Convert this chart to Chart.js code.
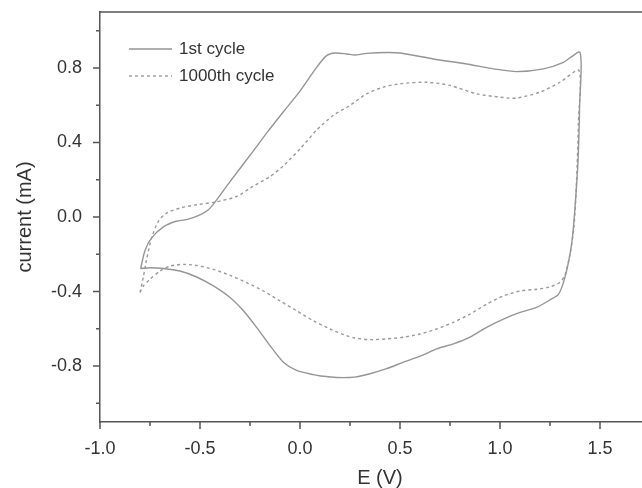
<!DOCTYPE html>
<html>
<head>
<meta charset="utf-8">
<script src="https://cdn.jsdelivr.net/npm/chart.js@4.4.1/dist/chart.umd.min.js"></script>
<style>
  html, body { margin: 0; padding: 0; background: #fff; overflow: hidden; }
  canvas { display: block; }
</style>
</head>
<body>
<canvas id="cvChart" width="662" height="488"></canvas>
<script>
// 1st cycle: anodic sweep from -0.8 V up to 1.4 V, then back (cathodic)
const cycle1E = [
  -0.797, -0.775, -0.742, -0.683, -0.62, -0.567, -0.5, -0.458, -0.425, -0.35,
  -0.233, -0.167, -0.083, 0.0, 0.083, 0.133, 0.175, 0.233, 0.275, 0.333,
  0.433, 0.5, 0.667, 0.833, 0.967, 1.083, 1.217, 1.317, 1.4,
  1.398, 1.39, 1.375, 1.36, 1.342, 1.317,
  1.292, 1.25, 1.183, 1.1, 1.017, 0.933, 0.85, 0.767, 0.683, 0.617,
  0.517, 0.433, 0.35, 0.272, 0.183, 0.105, 0.067, -0.017, -0.083, -0.15,
  -0.217, -0.283, -0.35, -0.433, -0.517, -0.6, -0.683, -0.75, -0.797
];
const cycle1I = [
  -0.277, -0.18, -0.112, -0.053, -0.023, -0.014, 0.012, 0.039, 0.08, 0.19,
  0.355, 0.45, 0.565, 0.675, 0.803, 0.866, 0.88, 0.875, 0.869, 0.878,
  0.883, 0.88, 0.848, 0.821, 0.795, 0.78, 0.795, 0.83, 0.883,
  0.6, 0.3, 0.05, -0.13, -0.245, -0.352,
  -0.415, -0.445, -0.485, -0.512, -0.548, -0.592, -0.645, -0.681, -0.708, -0.74,
  -0.779, -0.814, -0.841, -0.859, -0.861, -0.853, -0.846, -0.823, -0.779, -0.69,
  -0.592, -0.503, -0.432, -0.37, -0.322, -0.29, -0.276, -0.272, -0.277
];

// 1000th cycle
const cycle1000E = [
  -0.8, -0.783, -0.767, -0.742, -0.708, -0.667, -0.6, -0.517, -0.425, -0.317,
  -0.25, -0.15, -0.083, 0.0, 0.083, 0.167, 0.25, 0.333, 0.417, 0.5,
  0.633, 0.75, 0.883, 1.0, 1.083, 1.2, 1.3, 1.395,
  1.392, 1.383, 1.37, 1.35, 1.325,
  1.3, 1.25, 1.183, 1.1, 1.017, 0.933, 0.85, 0.767, 0.683, 0.6,
  0.517, 0.433, 0.35, 0.272, 0.233, 0.15, 0.067, -0.017, -0.1, -0.183,
  -0.267, -0.35, -0.433, -0.517, -0.583, -0.65, -0.7, -0.75, -0.783, -0.8
];
const cycle1000I = [
  -0.405, -0.32, -0.228, -0.112, -0.023, 0.021, 0.048, 0.066, 0.08, 0.11,
  0.155, 0.217, 0.275, 0.365, 0.466, 0.546, 0.599, 0.661, 0.697, 0.715,
  0.723, 0.706, 0.661, 0.643, 0.638, 0.67, 0.723, 0.786,
  0.5, 0.2, -0.05, -0.2, -0.31,
  -0.35, -0.375, -0.388, -0.397, -0.423, -0.468, -0.521, -0.565, -0.601, -0.628,
  -0.645, -0.654, -0.658, -0.649, -0.637, -0.601, -0.557, -0.503, -0.45, -0.397,
  -0.352, -0.313, -0.281, -0.26, -0.254, -0.263, -0.29, -0.334, -0.37, -0.405
];

const xMajorTicks = [-1.0, -0.5, 0.0, 0.5, 1.0, 1.5];
const xMinorTicks = [-0.75, -0.25, 0.25, 0.75, 1.25, 1.75];
const yMajorTicks = [-0.8, -0.4, 0.0, 0.4, 0.8];
const yMinorTicks = [-1.0, -0.6, -0.2, 0.2, 0.6, 1.0];

const FONT = '"Liberation Sans", Arial, sans-serif';
const AXIS = '#555';
const TEXT = '#333';

const toPoints = (xs, ys) => xs.map((x, i) => ({ x, y: ys[i] }));
const isMajor = (v, list) => list.some(m => Math.abs(m - v) < 1e-9);
const tickList = (a, b) => [...a, ...b].sort((p, q) => p - q).map(v => ({ value: v }));

// top/right frame, outward tick marks and the inset legend
const framePlugin = {
  id: 'frame',
  afterDraw(chart) {
    const { ctx, chartArea: a, scales: { x, y } } = chart;
    ctx.save();
    ctx.strokeStyle = AXIS;
    ctx.lineWidth = 1.5;
    ctx.beginPath();
    ctx.moveTo(a.left, a.top);
    ctx.lineTo(a.right, a.top);
    ctx.lineTo(a.right, a.bottom);
    x.ticks.forEach(t => {
      const px = x.getPixelForValue(t.value);
      const len = isMajor(t.value, xMajorTicks) ? 7 : 4;
      ctx.moveTo(px, a.bottom);
      ctx.lineTo(px, a.bottom + len);
    });
    y.ticks.forEach(t => {
      const py = y.getPixelForValue(t.value);
      const len = isMajor(t.value, yMajorTicks) ? 7 : 4;
      ctx.moveTo(a.left, py);
      ctx.lineTo(a.left - len, py);
    });
    ctx.stroke();

    ctx.font = '17px ' + FONT;
    ctx.textBaseline = 'middle';
    ctx.fillStyle = TEXT;
    chart.data.datasets.forEach((ds, i) => {
      const ly = a.top + 37 + i * 27;
      ctx.strokeStyle = ds.borderColor;
      ctx.lineWidth = ds.borderWidth;
      ctx.setLineDash(ds.borderDash || []);
      ctx.beginPath();
      ctx.moveTo(a.left + 29, ly);
      ctx.lineTo(a.left + 72, ly);
      ctx.stroke();
      ctx.fillText(ds.label, a.left + 79, ly);
    });
    ctx.restore();
  }
};

new Chart(document.getElementById('cvChart'), {
  type: 'scatter',
  data: {
    datasets: [
      {
        label: '1st cycle',
        data: toPoints(cycle1E, cycle1I),
        showLine: true,
        borderColor: '#959595',
        borderWidth: 1.4,
        pointRadius: 0,
        tension: 0.25
      },
      {
        label: '1000th cycle',
        data: toPoints(cycle1000E, cycle1000I),
        showLine: true,
        borderColor: '#9a9a9a',
        borderWidth: 1.4,
        borderDash: [3, 3],
        pointRadius: 0,
        tension: 0.25
      }
    ]
  },
  options: {
    responsive: false,
    animation: false,
    layout: { padding: { top: 12, right: 2, left: 0, bottom: 0 } },
    plugins: {
      legend: { display: false },
      tooltip: { enabled: false }
    },
    scales: {
      x: {
        type: 'linear',
        min: -1.0,
        max: 1.8,
        afterFit: s => { s.height = 66; s.paddingLeft = 0; s.paddingRight = 0; },
        afterBuildTicks: s => { s.ticks = tickList(xMajorTicks, xMinorTicks); },
        grid: { display: false, drawTicks: false },
        border: { display: true, color: AXIS, width: 1.5 },
        ticks: {
          autoSkip: false,
          maxRotation: 0,
          padding: 16,
          color: TEXT,
          font: { family: FONT, size: 18 },
          callback: v => isMajor(v, xMajorTicks) ? v.toFixed(1) : ''
        },
        title: {
          display: true,
          text: 'E (V)',
          color: TEXT,
          font: { family: FONT, size: 20 },
          padding: { top: 0, bottom: -2 }
        }
      },
      y: {
        type: 'linear',
        min: -1.1,
        max: 1.1,
        afterFit: s => { s.width = 100; s.paddingTop = 0; s.paddingBottom = 0; },
        afterBuildTicks: s => { s.ticks = tickList(yMajorTicks, yMinorTicks); },
        grid: { display: false, drawTicks: false },
        border: { display: true, color: AXIS, width: 1.5 },
        ticks: {
          autoSkip: false,
          padding: 18,
          color: TEXT,
          font: { family: FONT, size: 18 },
          callback: v => isMajor(v, yMajorTicks) ? v.toFixed(1) : ''
        },
        title: {
          display: true,
          text: 'current (mA)',
          color: TEXT,
          font: { family: FONT, size: 20 },
          padding: { top: 13, bottom: 0 }
        }
      }
    }
  },
  plugins: [framePlugin]
});
</script>
</body>
</html>
